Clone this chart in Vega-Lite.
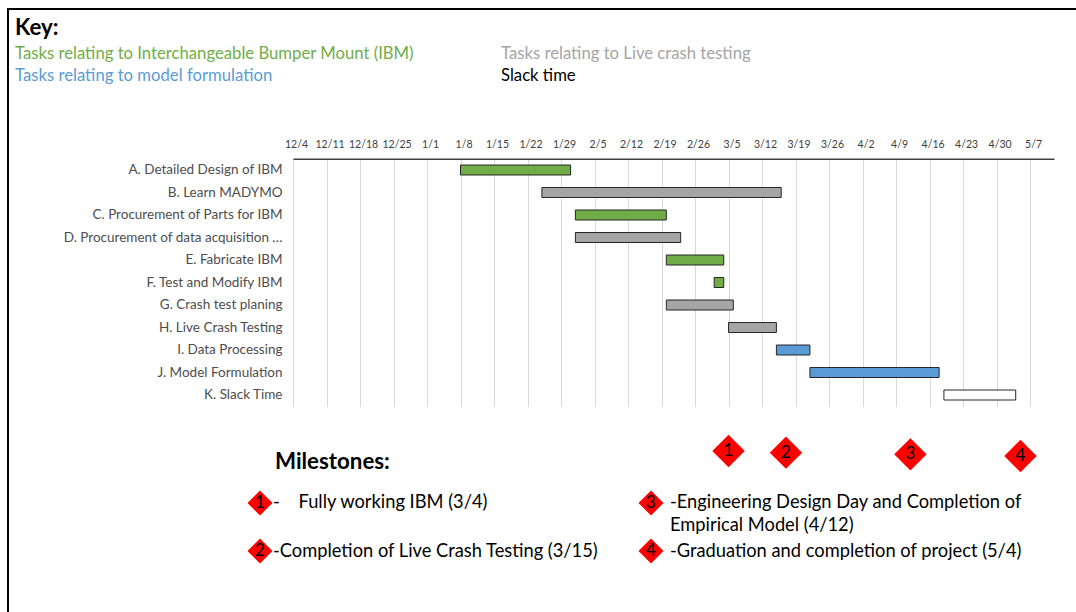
{
  "$schema": "https://vega.github.io/schema/vega-lite/v6.json",
  "width": 1068,
  "height": 603,
  "autosize": {"type": "none"},
  "padding": {"left": 8, "top": 9, "right": 0, "bottom": 0},
  "background": "white",
  "config": {
    "font": "Lato",
    "view": {"stroke": "#000000", "strokeWidth": 2, "strokeDash": [1068, 1671, 603]}
  },
  "datasets": {
    "tasks": [
      {"task": "A. Detailed Design of IBM", "start": "2018-01-08", "end": "2018-01-31", "group": "Tasks relating to Interchangeable Bumper Mount (IBM)"},
      {"task": "B. Learn MADYMO", "start": "2018-01-25", "end": "2018-03-16", "group": "Tasks relating to Live crash testing"},
      {"task": "C. Procurement of Parts for IBM", "start": "2018-02-01", "end": "2018-02-20", "group": "Tasks relating to Interchangeable Bumper Mount (IBM)"},
      {"task": "D. Procurement of data acquisition equipment", "start": "2018-02-01", "end": "2018-02-23", "group": "Tasks relating to Live crash testing"},
      {"task": "E. Fabricate IBM", "start": "2018-02-20", "end": "2018-03-04", "group": "Tasks relating to Interchangeable Bumper Mount (IBM)"},
      {"task": "F. Test and Modify IBM", "start": "2018-03-02", "end": "2018-03-04", "group": "Tasks relating to Interchangeable Bumper Mount (IBM)"},
      {"task": "G. Crash test planing", "start": "2018-02-20", "end": "2018-03-06", "group": "Tasks relating to Live crash testing"},
      {"task": "H. Live Crash Testing", "start": "2018-03-05", "end": "2018-03-15", "group": "Tasks relating to Live crash testing"},
      {"task": "I. Data Processing", "start": "2018-03-15", "end": "2018-03-22", "group": "Tasks relating to model formulation"},
      {"task": "J. Model Formulation", "start": "2018-03-22", "end": "2018-04-18", "group": "Tasks relating to model formulation"},
      {"task": "K. Slack Time", "start": "2018-04-19", "end": "2018-05-04", "group": "Slack time"}
    ],
    "key": [
      {"group": "Tasks relating to Interchangeable Bumper Mount (IBM)", "col": "left", "row": "first"},
      {"group": "Tasks relating to Live crash testing", "col": "right", "row": "first"},
      {"group": "Tasks relating to model formulation", "col": "left", "row": "second"},
      {"group": "Slack time", "col": "right", "row": "second"}
    ],
    "milestones": [
      {"milestone": "1", "date": "2018-03-05"},
      {"milestone": "2", "date": "2018-03-17"},
      {"milestone": "3", "date": "2018-04-12"},
      {"milestone": "4", "date": "2018-05-05"}
    ],
    "legend": [
      {"milestone": "1", "col": "left", "row": "top", "label": "-\u00a0\u00a0\u00a0\u00a0Fully working IBM (3/4)"},
      {"milestone": "2", "col": "left", "row": "bottom", "label": "-Completion of Live Crash Testing (3/15)"},
      {"milestone": "3", "col": "right", "row": "top", "label": ["-Engineering Design Day and Completion of", "Empirical Model (4/12)"]},
      {"milestone": "4", "col": "right", "row": "bottom", "label": "-Graduation and completion of project (5/4)"}
    ],
    "heading": [{"heading": "Key:"}, {"heading": "Milestones:"}]
  },
  "layer": [
    {
      "layer": [
        {
          "data": {"name": "tasks"},
          "mark": {"type": "bar", "size": 10, "stroke": "#262626", "strokeWidth": 1},
          "encoding": {
            "y": {
              "field": "task", "type": "nominal", "sort": null,
              "scale": {"type": "band", "range": [149.75, 397.25], "paddingInner": 0, "paddingOuter": 0},
              "axis": {"orient": "left", "offset": -285, "title": null, "domain": false, "ticks": false, "grid": false, "labelPadding": 11, "labelFontSize": 13.5, "labelColor": "#4d4d4d", "labelLimit": 222}
            },
            "x": {
              "field": "start", "type": "temporal", "title": null,
              "scale": {"type": "utc", "domain": [{"year": 2017, "month": 12, "date": 4, "utc": true}, {"year": 2018, "month": 5, "date": 12, "utc": true}], "range": [285, 1046]},
              "axis": {
                "orient": "top", "offset": -149.75, "title": null, "format": "%-m/%-d",
                "values": [
                  {"year": 2017, "month": 12, "date": 4, "utc": true},
                  {"year": 2017, "month": 12, "date": 11, "utc": true},
                  {"year": 2017, "month": 12, "date": 18, "utc": true},
                  {"year": 2017, "month": 12, "date": 25, "utc": true},
                  {"year": 2018, "month": 1, "date": 1, "utc": true},
                  {"year": 2018, "month": 1, "date": 8, "utc": true},
                  {"year": 2018, "month": 1, "date": 15, "utc": true},
                  {"year": 2018, "month": 1, "date": 22, "utc": true},
                  {"year": 2018, "month": 1, "date": 29, "utc": true},
                  {"year": 2018, "month": 2, "date": 5, "utc": true},
                  {"year": 2018, "month": 2, "date": 12, "utc": true},
                  {"year": 2018, "month": 2, "date": 19, "utc": true},
                  {"year": 2018, "month": 2, "date": 26, "utc": true},
                  {"year": 2018, "month": 3, "date": 5, "utc": true},
                  {"year": 2018, "month": 3, "date": 12, "utc": true},
                  {"year": 2018, "month": 3, "date": 19, "utc": true},
                  {"year": 2018, "month": 3, "date": 26, "utc": true},
                  {"year": 2018, "month": 4, "date": 2, "utc": true},
                  {"year": 2018, "month": 4, "date": 9, "utc": true},
                  {"year": 2018, "month": 4, "date": 16, "utc": true},
                  {"year": 2018, "month": 4, "date": 23, "utc": true},
                  {"year": 2018, "month": 4, "date": 30, "utc": true},
                  {"year": 2018, "month": 5, "date": 7, "utc": true}
                ],
                "labelFontSize": 10.5, "labelColor": "#404040", "labelPadding": 9, "labelOffset": 3,
                "labelFlush": false, "labelOverlap": false, "ticks": false,
                "domain": true, "domainColor": "#404040", "domainWidth": 1.5,
                "grid": true, "gridColor": "#d9d9d9", "gridWidth": 1
              }
            },
            "x2": {"field": "end"},
            "fill": {
              "field": "group", "type": "nominal",
              "scale": {
                "domain": ["Tasks relating to Interchangeable Bumper Mount (IBM)", "Tasks relating to Live crash testing", "Tasks relating to model formulation", "Slack time"],
                "range": ["#70AD47", "#A5A5A5", "#5B9BD5", "#FFFFFF"]
              },
              "legend": null
            }
          }
        },
        {
          "data": {"name": "milestones"},
          "mark": {"type": "point", "shape": "diamond", "filled": true, "color": "#FF0000", "size": 1050, "opacity": 1},
          "encoding": {
            "x": {"field": "date", "type": "temporal", "title": null},
            "y": {"field": "milestone", "type": "nominal", "scale": {"type": "point", "range": [442, 447], "padding": 0}, "axis": null}
          }
        },
        {
          "data": {"name": "milestones"},
          "mark": {"type": "text", "fontSize": 17, "color": "#000000", "align": "center", "baseline": "middle"},
          "encoding": {
            "x": {"field": "date", "type": "temporal", "title": null},
            "y": {"field": "milestone", "type": "nominal", "scale": {"type": "point", "range": [442, 447], "padding": 0}, "axis": null},
            "text": {"field": "milestone", "type": "nominal"}
          }
        }
      ],
      "resolve": {"scale": {"y": "independent"}, "axis": {"y": "independent"}}
    },
    {
      "data": {"name": "key"},
      "mark": {"type": "text", "fontSize": 16.7, "align": "left", "baseline": "middle"},
      "encoding": {
        "x": {"field": "col", "type": "nominal", "scale": {"type": "point", "domain": ["left", "right"], "range": [7, 493], "padding": 0}, "axis": null},
        "y": {"field": "row", "type": "nominal", "scale": {"type": "point", "domain": ["first", "second"], "range": [44.5, 66.5], "padding": 0}, "axis": null},
        "text": {"field": "group", "type": "nominal"},
        "color": {
          "field": "group", "type": "nominal",
          "scale": {
            "domain": ["Tasks relating to Interchangeable Bumper Mount (IBM)", "Tasks relating to Live crash testing", "Tasks relating to model formulation", "Slack time"],
            "range": ["#70AD47", "#A5A5A5", "#5B9BD5", "#000000"]
          },
          "legend": null
        }
      }
    },
    {
      "data": {"name": "heading"},
      "mark": {"type": "text", "fontSize": 22.3, "fontWeight": "bold", "color": "#000000", "align": "left", "baseline": "middle"},
      "encoding": {
        "x": {"field": "heading", "type": "nominal", "scale": {"type": "point", "domain": ["Key:", "Milestones:"], "range": [7, 267], "padding": 0}, "axis": null},
        "y": {"field": "heading", "type": "nominal", "scale": {"type": "point", "domain": ["Key:", "Milestones:"], "range": [18.5, 453], "padding": 0}, "axis": null},
        "text": {"field": "heading", "type": "nominal"}
      }
    },
    {
      "data": {"name": "legend"},
      "mark": {"type": "point", "shape": "diamond", "filled": true, "color": "#FF0000", "size": 625, "opacity": 1},
      "encoding": {
        "x": {"field": "col", "type": "nominal", "scale": {"type": "point", "domain": ["left", "right"], "range": [252, 643], "padding": 0}, "axis": null},
        "y": {"field": "row", "type": "nominal", "scale": {"type": "point", "domain": ["top", "bottom"], "range": [494, 542], "padding": 0}, "axis": null}
      }
    },
    {
      "data": {"name": "legend"},
      "mark": {"type": "text", "fontSize": 17, "color": "#000000", "align": "center", "baseline": "middle"},
      "encoding": {
        "x": {"field": "col", "type": "nominal", "scale": {"type": "point", "domain": ["left", "right"], "range": [252, 643], "padding": 0}, "axis": null},
        "y": {"field": "row", "type": "nominal", "scale": {"type": "point", "domain": ["top", "bottom"], "range": [494, 542], "padding": 0}, "axis": null},
        "text": {"field": "milestone", "type": "nominal"}
      }
    },
    {
      "data": {"name": "legend"},
      "mark": {"type": "text", "fontSize": 18.3, "lineHeight": 23, "color": "#000000", "align": "left", "baseline": "top"},
      "encoding": {
        "x": {"field": "col", "type": "nominal", "scale": {"type": "point", "domain": ["left", "right"], "range": [265, 662], "padding": 0}, "axis": null},
        "y": {"field": "row", "type": "nominal", "scale": {"type": "point", "domain": ["top", "bottom"], "range": [485, 534], "padding": 0}, "axis": null},
        "text": {"field": "label", "type": "nominal"}
      }
    }
  ],
  "resolve": {
    "scale": {"x": "independent", "y": "independent", "fill": "independent", "color": "independent"},
    "axis": {"x": "independent", "y": "independent"}
  }
}
